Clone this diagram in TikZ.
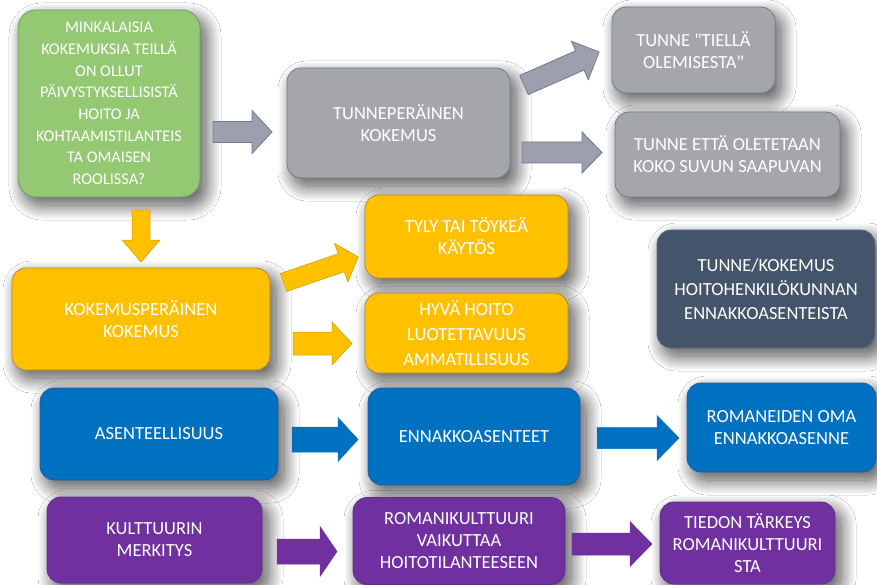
\documentclass[tikz,border=0pt]{standalone}
\usepackage{fontspec}
\setmainfont{Carlito}
\usetikzlibrary{shadows.blur}
\definecolor{cgreen}{RGB}{148,200,114}
\definecolor{cgreenB}{RGB}{112,150,110}
\definecolor{cgray}{RGB}{165,166,170}
\definecolor{cgrayB}{RGB}{105,125,148}
\definecolor{cgold}{RGB}{255,192,0}
\definecolor{cgoldB}{RGB}{170,140,60}
\definecolor{cnavy}{RGB}{68,84,106}
\definecolor{cnavyB}{RGB}{90,110,135}
\definecolor{cblue}{RGB}{0,112,192}
\definecolor{cblueB}{RGB}{40,90,150}
\definecolor{cpurple}{RGB}{112,48,160}
\definecolor{cpurpleB}{RGB}{90,50,130}
\newcommand{\blockarrow}[7]{%
  \begin{scope}[shift={#2}, rotate=#3]
    \draw[#1] (0,{-#5}) -- ({#4-#7},{-#5}) -- ({#4-#7},{-#6}) -- (#4,0) -- ({#4-#7},#6) -- ({#4-#7},#5) -- (0,#5) -- cycle;
  \end{scope}}
\tikzset{
  box/.style={rounded corners=14pt, line width=0.8pt, text=white, align=center,
    font=\fontsize{18.5}{22}\selectfont, inner sep=2pt,
    blur shadow={shadow xshift=6pt, shadow yshift=-8pt, shadow blur radius=15pt, shadow blur steps=30, shadow opacity=70}},
  gbox/.style={box, fill=cgray, draw=cgrayB},
  ybox/.style={box, fill=cgold, draw=cgoldB},
  bbox/.style={box, fill=cblue, draw=cblueB},
  pbox/.style={box, fill=cpurple, draw=cpurpleB},
  garr/.style={fill=cgray!95!blue, draw=cgrayB, line width=0.8pt},
  yarr/.style={fill=cgold, draw=cgold!80!black, line width=0.5pt},
  barr/.style={fill=cblue, draw=cblue, line width=0.5pt},
  parr/.style={fill=cpurple, draw=cpurple, line width=0.5pt}
}
\begin{document}
\begin{tikzpicture}[x=1pt, y=-1pt]
\useasboundingbox (0,0) rectangle (877,585);
\fill[white] (0,0) rectangle (877,585);

% green question box
\node[box, rounded corners=18pt, fill=cgreen, draw=cgreenB, minimum width=182pt, minimum height=187pt,
  font=\fontsize{16.3}{21.7}\selectfont] (g) at (109,103.5)
  {MINKALAISIA\\KOKEMUKSIA TEILLÄ\\ON OLLUT\\PÄIVYSTYKSELLISISTÄ\\HOITO JA\\KOHTAAMISTILANTEIS\\TA OMAISEN\\ROOLISSA?};

% gray row
\node[gbox, minimum width=223pt, minimum height=110pt] (t) at (398.5,123) {TUNNEPERÄINEN\\KOKEMUS};
\node[gbox, minimum width=163pt, minimum height=86pt] (t1) at (693.5,50) {TUNNE \textquotedbl TIELLÄ\\OLEMISESTA\textquotedbl};
\node[gbox, minimum width=225pt, minimum height=85pt] (t2) at (727.5,154.5) {TUNNE ETTÄ OLETETAAN\\KOKO SUVUN SAAPUVAN};

% yellow row
\node[ybox, minimum width=258pt, minimum height=102pt] (k) at (141,319) {KOKEMUSPERÄINEN\\KOKEMUS};
\node[ybox, minimum width=203pt, minimum height=83pt] (y1) at (466.5,236.5) {TYLY TAI TÖYKEÄ\\KÄYTÖS};
\node[ybox, minimum width=203pt, minimum height=80pt, font=\fontsize{18.5}{25}\selectfont] (y2) at (466.5,333) {HYVÄ HOITO\\LUOTETTAVUUS\\AMMATILLISUUS};

% navy box
\node[box, fill=cnavy, draw=cnavyB, minimum width=218pt, minimum height=118pt, font=\fontsize{18.5}{24}\selectfont] (n) at (766,289)
  {TUNNE/KOKEMUS\\HOITOHENKILÖKUNNAN\\ENNAKKOASENTEISTA};

% blue row
\node[bbox, minimum width=238pt, minimum height=92pt] (b1) at (159,434) {ASENTEELLISUUS};
\node[bbox, minimum width=212pt, minimum height=97pt] (b2) at (474,436.5) {ENNAKKOASENTEET};
\node[bbox, minimum width=189pt, minimum height=89pt] (b3) at (781.5,427.5) {ROMANEIDEN OMA\\ENNAKKOASENNE};

% purple row
\node[pbox, minimum width=215pt, minimum height=86pt] (p1) at (154.5,540) {KULTTUURIN\\MERKITYS};
\node[pbox, minimum width=212pt, minimum height=87pt] (p2) at (459,541) {ROMANIKULTTUURI\\VAIKUTTAA\\HOITOTILANTEESEEN};
\node[pbox, minimum width=175pt, minimum height=82pt] (p3) at (747.5,543) {TIEDON TÄRKEYS\\ROMANIKULTTUURI\\STA};

% block arrows: style, tail, angle, length, shaft half, head half, head length
\blockarrow{garr}{(213,132)}{0}{59}{10.5}{21.5}{20}
\blockarrow{garr}{(524,85)}{23.75}{82}{10.5}{21}{21}
\blockarrow{garr}{(522,152.5)}{0}{80}{10.5}{20.5}{20}
\blockarrow{yarr}{(141,210)}{-90}{52}{9}{19}{22}
\blockarrow{yarr}{(283.5,282.5)}{18.9}{79}{9.5}{20.5}{18}
\blockarrow{yarr}{(293,343.5)}{0}{59}{11.5}{21.5}{20}
\blockarrow{barr}{(292,439.5)}{0}{66}{12.5}{22}{20}
\blockarrow{barr}{(597,438)}{0}{82}{10.5}{22.5}{22}
\blockarrow{parr}{(277,551.5)}{0}{60}{12.5}{25}{17}
\blockarrow{parr}{(572,544)}{0}{80}{11}{22.5}{22}
\end{tikzpicture}
\end{document}
